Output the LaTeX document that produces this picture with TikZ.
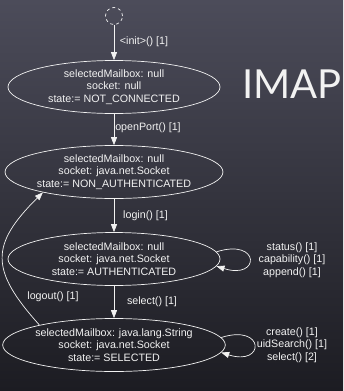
\documentclass[tikz,border=0pt]{standalone}
\usepackage{fontspec}
\setmainfont{Liberation Sans}
\newfontfamily\titlefont{Lato}
\usetikzlibrary{arrows.meta,shapes.geometric}
\definecolor{bgtop}{RGB}{76,76,90}
\definecolor{bgbot}{RGB}{28,28,34}
\definecolor{fg}{RGB}{242,242,242}
\tikzset{
  state/.style={draw=fg, ellipse, line width=0.7pt, minimum width=212pt, minimum height=53pt, inner sep=0pt, align=center, text=fg, font=\fontsize{10.7}{12.7}\selectfont},
  edge/.style={draw=fg, line width=0.7pt, -{Triangle[width=6pt,length=8pt]}},
  lbl/.style={text=fg, font=\fontsize{10.7}{12.7}\selectfont, align=center, inner sep=0pt},
}
\begin{document}
\begin{tikzpicture}[x=1pt,y=-1pt]
\shade[top color=bgtop, bottom color=bgbot] (0,0) rectangle (343,391);
\useasboundingbox (0,0) rectangle (343,391);
\node[draw=fg, dashed, circle, line width=0.7pt, minimum size=17pt, inner sep=0pt] (init) at (114,16) {};
\node[state] (s1) at (114,87) {selectedMailbox: null\\socket: null\\state:= NOT\_CONNECTED};
\node[state] (s2) at (114,172) {selectedMailbox: null\\socket: java.net.Socket\\state:= NON\_AUTHENTICATED};
\node[state] (s3) at (114,259) {selectedMailbox: null\\socket: java.net.Socket\\state:= AUTHENTICATED};
\node[state] (s4) at (114,345) {selectedMailbox: java.lang.String\\socket: java.net.Socket\\state:= SELECTED};
\node[text=fg, font=\titlefont\fontsize{40}{40}\selectfont, inner sep=0pt] (title) at (292,84) {IMAP};
\draw[edge] (init) -- (s1);
\draw[edge] (s1) -- (s2);
\draw[edge] (s2) -- (s3);
\draw[edge] (s3) -- (s4);
\draw[edge] (s3.4) .. controls +(44,-14) and +(44,14) .. (s3.-4);
\draw[edge] (s4.4) .. controls +(44,-14) and +(44,14) .. (s4.-4);
\draw[edge] (s4.165) .. controls (-10,270) and (-10,245) .. (s2.196);
\node[lbl] (l1) at (144,42) {<init>() [1]};
\node[lbl] (l2) at (148,128) {openPort() [1]};
\node[lbl] (l3) at (145.5,216) {login() [1]};
\node[lbl] (l4) at (152,302) {select() [1]};
\node[lbl] (l5) at (53,297) {logout() [1]};
\node[lbl] (l6) at (292,260) {status() [1]\\capability() [1]\\append() [1]};
\node[lbl] (l7) at (292,345) {create() [1]\\uidSearch() [1]\\select() [2]};
\end{tikzpicture}
\end{document}
